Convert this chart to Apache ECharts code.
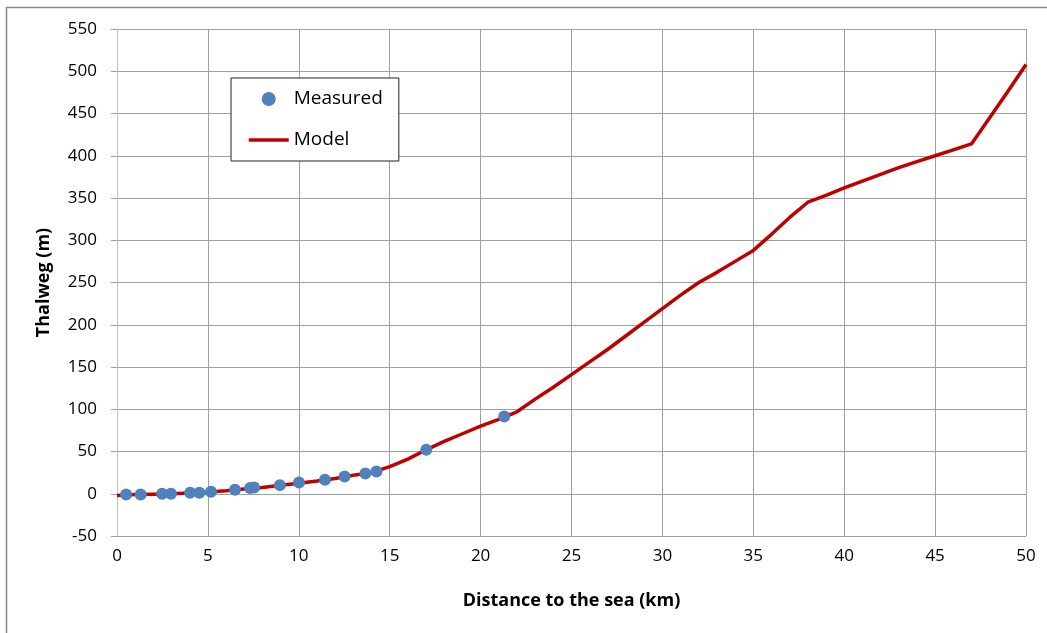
<!DOCTYPE html>
<html>
<head>
<meta charset="utf-8">
<script src="https://cdn.jsdelivr.net/npm/echarts@6/dist/echarts.min.js"></script>
<style>
html,body{margin:0;padding:0;background:#fff;}
#c{width:1047px;height:633px;}
</style>
</head>
<body>
<div id="c"></div>
<script>
// Measured points: distance (km), thalweg (m)
const measuredX = [0.50, 1.30, 2.48, 2.97, 4.02, 4.53, 5.17, 6.49, 7.32, 7.54, 8.96, 10.01, 11.44, 12.52, 13.66, 14.27, 17.01, 21.30];
const measuredY = [-0.8, -0.8, 0.0, 0.0, 1.2, 1.2, 2.4, 4.7, 6.7, 7.4, 10.2, 13.4, 16.5, 20.5, 24.0, 26.4, 52.0, 91.4];

// Model line
const modelX = [0, 1, 2, 3, 4, 5, 6, 7, 8, 9, 10, 11, 12, 13, 14, 15, 16, 17, 18, 19, 20, 21, 22, 23, 24, 25, 26, 27, 28, 29, 30, 31, 32, 33, 34, 35, 36, 37, 38, 39, 40, 41, 42, 43, 44, 45, 46, 47, 48, 49, 50];
const modelY = [-2, -1, -0.5, 0, 1, 2, 3.5, 5.5, 7.5, 10, 12.5, 15, 18, 22, 25, 32, 41, 52, 62, 71, 80, 88, 97, 112, 126, 141, 156, 171, 187, 203, 219, 235, 250, 262, 275, 288, 307, 327, 345, 353, 362, 370, 378, 386, 393, 400, 407, 414, 445, 476, 508];

const xTicks = {min: 0, max: 50, interval: 5};
const yTicks = {min: -50, max: 550, interval: 50};

const font = "'Open Sans', 'Noto Sans', sans-serif";
const chart = echarts.init(document.getElementById('c'), null, {renderer: 'canvas'});
chart.setOption({
  backgroundColor: '#fff',
  animation: false,
  graphic: [{
    type: 'rect', left: 4, top: 5, silent: true,
    shape: {width: 1100, height: 700},
    style: {fill: 'none', stroke: '#888', lineWidth: 1.5}
  }],
  grid: {left: 117, right: 21, top: 29, bottom: 97},
  legend: {
    left: 231, top: 78, orient: 'vertical',
    backgroundColor: '#fff', borderColor: '#222', borderWidth: 1,
    padding: [10, 16, 10, 16],
    itemWidth: 40, itemHeight: 14, itemGap: 19,
    textStyle: {fontFamily: font, fontSize: 19, color: '#000', lineHeight: 22},
    data: [
      {name: 'Measured', icon: 'circle'},
      {name: 'Model', itemStyle: {opacity: 0}, lineStyle: {width: 3.5, color: '#c00000'}}
    ]
  },
  xAxis: {
    type: 'value', min: xTicks.min, max: xTicks.max, interval: xTicks.interval,
    name: 'Distance to the sea (km)', nameLocation: 'middle', nameGap: 56,
    nameTextStyle: {fontFamily: font, fontSize: 18, fontWeight: 'bold', color: '#000'},
    axisLine: {show: false},
    axisTick: {show: false},
    axisLabel: {fontFamily: font, fontSize: 17, color: '#000', margin: 12},
    splitLine: {show: true, lineStyle: {color: '#a0a0a0', width: 1}}
  },
  yAxis: {
    type: 'value', min: yTicks.min, max: yTicks.max, interval: yTicks.interval,
    name: 'Thalweg (m)', nameLocation: 'middle', nameGap: 64, nameRotate: 90,
    nameTextStyle: {fontFamily: font, fontSize: 18, fontWeight: 'bold', color: '#000'},
    axisLine: {show: true, lineStyle: {color: '#c0c0c0', width: 1}},
    axisTick: {show: true, length: 6, lineStyle: {color: '#a0a0a0'}},
    axisLabel: {fontFamily: font, fontSize: 17, color: '#000', margin: 20},
    splitLine: {show: true, lineStyle: {color: '#a0a0a0', width: 1}}
  },
  series: [
    {
      name: 'Model', type: 'line', showSymbol: false, symbol: 'none',
      data: modelX.map((x, i) => [x, modelY[i]]),
      lineStyle: {color: '#c00000', width: 3.5}, itemStyle: {color: '#c00000'},
      z: 2
    },
    {
      name: 'Measured', type: 'scatter', symbol: 'circle', symbolSize: 12,
      data: measuredX.map((x, i) => [x, measuredY[i]]),
      itemStyle: {color: '#4f81bd', opacity: 1},
      z: 3
    }
  ]
});
</script>
</body>
</html>
